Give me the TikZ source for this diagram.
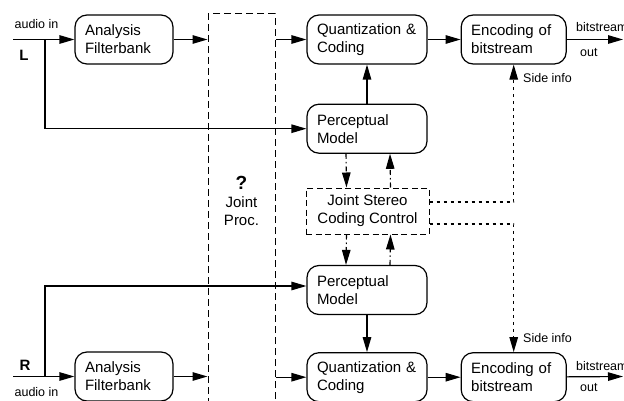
\documentclass[tikz,border=0pt]{standalone}
\usepackage{fontspec}
\setmainfont{Liberation Sans}
\usetikzlibrary{arrows.meta,positioning}

\begin{document}
\begin{tikzpicture}[
    x=1pt, y=-1pt,
    font=\fontsize{15}{18}\selectfont,
    block/.style={draw, rounded corners=12pt, line width=1.2pt, align=left,
                  inner xsep=10pt, minimum height=49pt},
    ctrl/.style={draw, line width=1pt, dash pattern=on 6pt off 3.5pt,
                 align=center, minimum width=123pt, minimum height=46pt},
    small/.style={font=\fontsize{12.5}{15}\selectfont, inner sep=0pt},
    chan/.style={font=\fontsize{15}{16}\selectfont\bfseries, inner sep=0pt},
    arrow/.style={-{Triangle[length=15pt,width=8.5pt]}, line width=1.2pt},
    ctlarrow/.style={-{Triangle[length=15pt,width=8.5pt]}, line width=1.1pt,
                     dash pattern=on 5pt off 3pt on 1.5pt off 3pt},
    sidearrow/.style={-{Triangle[length=15pt,width=8.5pt]}, line width=1.1pt,
                      dash pattern=on 3pt off 4pt}
]
  \useasboundingbox (0,0) rectangle (624,401);

  % left channel
  \node[block, text width=78pt] (afL) at (124,39.5) {Analysis\\Filterbank};
  \node[block, text width=100pt] (qcL) at (367,39.5) {Quantization \&\\Coding};
  \node[block, text width=85pt, right=33pt of qcL] (ebL) {Encoding of\\bitstream};
  \node[block, text width=100pt, below=39pt of qcL] (pmL) {Perceptual\\Model};

  % joint processing
  \node[draw, line width=1pt, dash pattern=on 7pt off 4pt, minimum width=67pt,
        minimum height=406pt, inner sep=0pt] (jp) at (241.5,217) {};
  \node[align=center] (jptxt) at (241.5,201)
    {{\fontsize{19}{20}\selectfont\bfseries ?}\\Joint\\Proc.};
  \node[ctrl] (jscc) at (367.5,211) {Joint Stereo\\Coding Control};

  % right channel
  \node[block, text width=100pt] (pmR) at (367,290) {Perceptual\\Model};
  \node[block, text width=100pt, below=37pt of pmR] (qcR) {Quantization \&\\Coding};
  \node[block, text width=85pt, right=33pt of qcR] (ebR) {Encoding of\\bitstream};
  \node[block, text width=78pt] (afR) at (124,376.5) {Analysis\\Filterbank};

  \coordinate (inL) at (13,39.5);
  \coordinate (brL) at (45,39.5);
  \coordinate (outL) at (623,39.5);
  \coordinate (inR) at (13,376.5);
  \coordinate (brR) at (45,376.5);
  \coordinate (outR) at (623,376.5);

  % labels
  \node[small] (ainL) at (36.5,24) {audio in};
  \node[chan] (chL) at (24,55) {L};
  \node[chan] (chR) at (25,365) {R};
  \node[small] (ainR) at (36.5,392) {audio in};
  \node[small, anchor=west] (bsL) at (576,27) {bitstream};
  \node[small, anchor=west] (olL) at (580,53) {out};
  \node[small, anchor=west] (bsR) at (576,366) {bitstream};
  \node[small, anchor=west] (olR) at (580,388) {out};
  \node[small, anchor=west] (siL) at (523,78) {Side info};
  \node[small, anchor=west] (siR) at (523,338) {Side info};

  % left signal path
  \draw[arrow] (inL) -- (afL);
  \draw[arrow] (brL) |- (pmL.west);
  \draw[arrow] (afL) -- (afL -| jp.west);
  \draw[arrow] (qcL -| jp.east) -- (qcL);
  \draw[arrow] (qcL) -- (ebL);
  \draw[arrow] (ebL) -- (outL);
  \draw[arrow] (pmL) -- (qcL);

  % right signal path
  \draw[arrow] (inR) -- (afR);
  \draw[arrow] (brR) |- ([yshift=4pt]pmR.west);
  \draw[arrow] (afR) -- (afR -| jp.west);
  \draw[arrow] (qcR -| jp.east) -- (qcR);
  \draw[arrow] (qcR) -- (ebR);
  \draw[arrow] (ebR) -- (outR);
  \draw[arrow] (pmR) -- (qcR);

  % stereo control
  \draw[ctlarrow] ([xshift=-21pt]pmL.south) -- ([xshift=-21pt]jscc.north);
  \draw[ctlarrow] ([xshift=23pt]jscc.north) -- ([xshift=23pt]pmL.south);
  \draw[ctlarrow] ([xshift=-21pt]jscc.south) -- ([xshift=-21pt]pmR.north);
  \draw[ctlarrow] ([xshift=23pt]pmR.north) -- ([xshift=23pt]jscc.south);
  \draw[sidearrow] ([yshift=9pt]jscc.east) -| (ebL);
  \draw[sidearrow] ([yshift=-13pt]jscc.east) -| (ebR);
\end{tikzpicture}
\end{document}
